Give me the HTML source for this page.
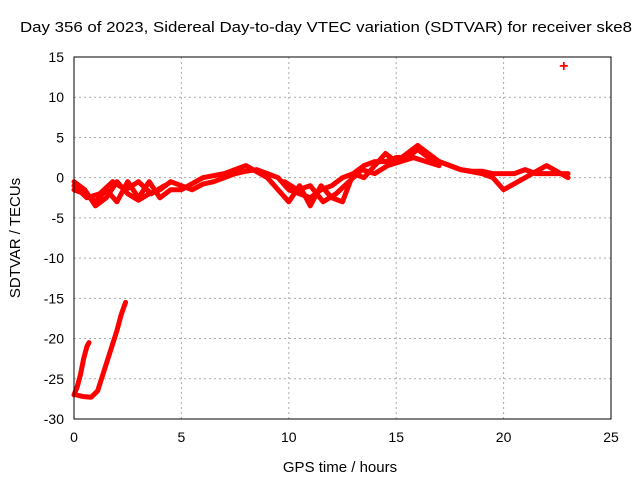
<!DOCTYPE html>
<html><head><meta charset="utf-8"><style>
body{margin:0;background:#fff}
svg{display:block;font-family:"Liberation Sans",sans-serif}
</style></head><body>
<svg id="chart" width="640" height="480">
<text x="326" y="32" font-size="15" textLength="612" lengthAdjust="spacingAndGlyphs" text-anchor="middle">Day 356 of 2023, Sidereal Day-to-day VTEC variation (SDTVAR) for receiver ske8</text>
<text x="340" y="472" font-size="15" text-anchor="middle">GPS time / hours</text>
<text transform="translate(20,238) rotate(-90)" font-size="15" text-anchor="middle">SDTVAR / TECUs</text>
<g id="grid"></g><g id="ticks"></g><g id="marks"></g>
<rect x="74" y="57" width="537" height="362" fill="none" stroke="#000"/>
</svg>
<script>
const xTicks=[0,5,10,15,20,25];
const yTicks=[15,10,5,0,-5,-10,-15,-20,-25,-30];
const track1X=[0,0.5,1,1.5,2,2.5,3,3.5,4,4.5,5,5.5,6,6.5,7,7.5,8,8.5,9,9.5,10,10.5,11,11.5,12,12.5,13,13.5,14,14.5,15,15.5,16,16.5,17,17.5,18,18.5,19,19.5,20,20.5,21,21.5,22,22.5,23];
const track1Y=[-0.5,-1.5,-3.5,-2.5,-0.5,-2,-2.8,-2,-1.5,-0.5,-1,-1.5,-0.8,-0.5,0,0.5,0.8,1,0.5,0,-1.5,-2,-2.5,-1.5,-1,0,0.5,1.5,2,2,2.5,2.5,3.5,2.5,2,1.5,1,0.8,0.8,0.5,0.5,0.5,1,0.5,0.5,0.5,0.5];
const track2X=[0,0.5,1,1.5,2,2.5,3,3.5,4,4.5,5,6,7,8,9,10,10.5,11,11.5,12,12.5,13,13.5,14,14.5,15,16,17,18,19,19.5,20,21,22,23];
const track2Y=[-1.5,-2,-3,-1.5,-3,-0.5,-2.5,-0.5,-2.5,-1.5,-1.5,0,0.5,1.5,0,-3,-1,-3.5,-1,-2.5,-3,0.5,0,1.5,3,2,4,2,1,0.5,0,-1.5,0,1.5,0];
const track3aX=[0,0.6,1.2,1.8,2.4,3,3.6,4.2];
const track3aY=[-1,-2.5,-2,-0.5,-1.5,-0.5,-2,-1];
const track3bX=[9.8,10.4,11,11.6,12.2,12.8,13.4,14,14.6,15.2,15.8,16.4,17];
const track3bY=[-0.5,-1.5,-1,-3,-2,-0.5,1,0.5,1.5,2,2.5,2,1.5];
const lowAX=[0,0.15,0.3,0.45,0.6,0.7];
const lowAY=[-27,-26,-24.5,-22.5,-21,-20.5];
const lowBX=[0.1,0.4,0.8,1.1,1.4,1.7,2,2.2,2.4];
const lowBY=[-27,-27.2,-27.3,-26.5,-24,-21.5,-19,-17,-15.5];
const outX=[22.8];
const outY=[14];
const NS='http://www.w3.org/2000/svg';
const sx=v=>74+v*537/25;
const sy=v=>57+(15-v)*362/45;
const grid=document.getElementById('grid'),ticks=document.getElementById('ticks'),marks=document.getElementById('marks');
function mk(t,a,p){const e=document.createElementNS(NS,t);for(const k in a)e.setAttribute(k,a[k]);p.appendChild(e);return e;}
xTicks.forEach(v=>{
 const g=mk('line',{x1:sx(v),x2:sx(v),y1:57,y2:419,stroke:'#aaa','stroke-dasharray':'2,3'},grid);
 
 
 const t=mk('text',{x:sx(v),y:442,'font-size':14,'text-anchor':'middle'},ticks);t.textContent=v;
 
 
});
yTicks.forEach(v=>{
 const g=mk('line',{x1:74,x2:611,y1:sy(v),y2:sy(v),stroke:'#aaa','stroke-dasharray':'2,3'},grid);
 
 
 const t=mk('text',{x:64,y:sy(v)+5,'font-size':14,'text-anchor':'end'},ticks);t.textContent=v;
 
 
});
function track(xs,ys,name){
 const d=xs.map((x,i)=>(i?'L':'M')+sx(x)+','+sy(ys[i])).join(' ');
 const p=mk('path',{d:d,fill:'none',stroke:'#f00','stroke-width':5,'stroke-linejoin':'round','stroke-linecap':'round'},marks);
 
 
}
track(track1X,track1Y,'sdtvar-track-1');
track(track2X,track2Y,'sdtvar-track-2');
track(track3aX,track3aY,'sdtvar-track-3a');
track(track3bX,track3bY,'sdtvar-track-3b');
track(lowAX,lowAY,'sdtvar-low-track-a');
track(lowBX,lowBY,'sdtvar-low-track-b');
outX.forEach((x,i)=>{
 const t=mk('text',{x:sx(x),y:sy(outY[i])+6,'font-size':16,'font-weight':'bold',fill:'#f00','text-anchor':'middle'},marks);t.textContent='+';
 
 
});
</script>
</body></html>
